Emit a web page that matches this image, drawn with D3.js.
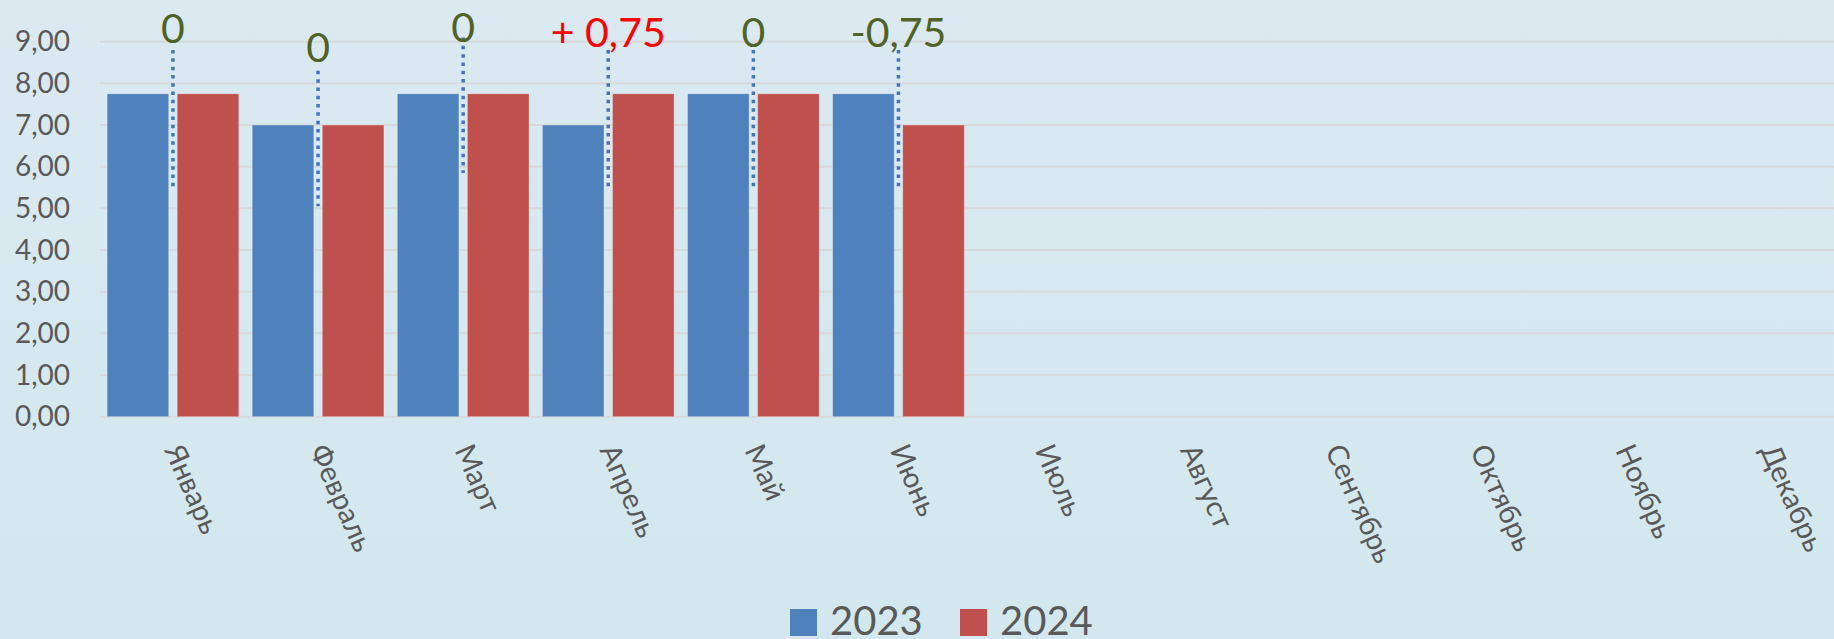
<!DOCTYPE html>
<html>
<head>
<meta charset="utf-8">
<script src="https://cdn.jsdelivr.net/npm/d3@7"></script>
<style>
  html, body { margin: 0; padding: 0; overflow: hidden; }
  svg { display: block; font-family: Lato, "Open Sans", sans-serif; }
</style>
</head>
<body>
<svg width="1834" height="639"></svg>
<script>
// data
var months = ["Январь", "Февраль", "Март", "Апрель", "Май", "Июнь",
    "Июль", "Август", "Сентябрь", "Октябрь", "Ноябрь", "Декабрь"];
var years = ["2023", "2024"];
var values2023 = [7.75, 7.00, 7.75, 7.00, 7.75, 7.75];
var values2024 = [7.75, 7.00, 7.75, 7.75, 7.75, 7.00];
var yTicks = [0, 1, 2, 3, 4, 5, 6, 7, 8, 9];

// difference callouts (text + leader line extent in value units)
var diffLabels = ["0", "0", "0", "+ 0,75", "0", "-0,75"];
var leaderTop = [8.8, 8.3, 9.1, 8.8, 8.8, 8.8];
var leaderBottom = [5.5, 5.05, 5.85, 5.5, 5.5, 5.5];
var labelBase = [8.98, 8.52, 8.99, 8.88, 8.88, 8.87];

var colors = { "2023": "#4f81bd", "2024": "#c0504d" };

var svg = d3.select("svg"),
    width = 1834,
    height = 639;

var ru = d3.formatLocale({ decimal: ",", thousands: " ", grouping: [3], currency: ["", " ₽"] });
var fmt = ru.format(".2f");

// background gradient
var defs = svg.append("defs");
var grad = defs.append("linearGradient")
    .attr("id", "bg")
    .attr("x1", 0).attr("y1", 0).attr("x2", 0).attr("y2", 1);
grad.append("stop").attr("offset", "0%").attr("stop-color", "#dbe9f1");
grad.append("stop").attr("offset", "100%").attr("stop-color", "#d2e8ee");
svg.append("rect")
    .attr("width", width).attr("height", height)
    .attr("fill", "url(#bg)");

// scales
var x = d3.scaleBand()
    .domain(months)
    .range([100.4, 1841.6]);

var x1 = d3.scaleBand()
    .domain(years)
    .range([0, x.bandwidth()])
    .paddingInner(0.121)
    .paddingOuter(0.0956);

var y = d3.scaleLinear()
    .domain([0, 9])
    .range([416.7, 41.7]);

// gridlines
svg.append("g")
    .attr("class", "grid")
    .selectAll("line")
    .data(yTicks)
    .enter().append("line")
    .attr("x1", 100).attr("x2", width)
    .attr("y1", d => y(d)).attr("y2", d => y(d))
    .attr("stroke", "#d6d9dc")
    .attr("stroke-width", 2);

// y axis labels
var yAxis = svg.append("g")
    .attr("transform", "translate(70,0)")
    .call(d3.axisLeft(y).tickValues(yTicks).tickFormat(fmt).tickSize(0).tickPadding(0));
yAxis.select(".domain").remove();
yAxis.selectAll("text")
    .attr("fill", "#595959")
    .style("font-size", "28px")
    .style("font-family", "Lato, 'Open Sans', sans-serif");

// bars
var rows = values2023.map((v, i) => ({ month: months[i], "2023": v, "2024": values2024[i] }));

var groups = svg.append("g")
    .selectAll("g")
    .data(rows)
    .enter().append("g")
    .attr("transform", d => "translate(" + x(d.month) + ",0)");

groups.selectAll("rect")
    .data(d => years.map(k => ({ key: k, value: d[k] })))
    .enter().append("rect")
    .attr("x", d => x1(d.key))
    .attr("width", x1.bandwidth())
    .attr("y", d => y(d.value))
    .attr("height", d => y(0) - y(d.value))
    .attr("fill", d => colors[d.key])
    .attr("stroke", "rgba(255,255,255,0.3)")
    .attr("stroke-width", 1);

// x labels
svg.append("g")
    .selectAll("text")
    .data(months)
    .enter().append("text")
    .attr("transform", d => "translate(" + (x(d) + x.bandwidth() / 2 - 9) + ",450) rotate(66)")
    .attr("fill", "#595959")
    .style("font-size", "29px")
    .text(d => d);

// leader lines + difference labels
var callouts = svg.append("g")
    .selectAll("g")
    .data(diffLabels.map((t, i) => ({ text: t, i: i, diff: values2024[i] - values2023[i] })))
    .enter().append("g");

callouts.append("line")
    .attr("x1", d => x(months[d.i]) + x.bandwidth() / 2)
    .attr("x2", d => x(months[d.i]) + x.bandwidth() / 2)
    .attr("y1", d => y(leaderTop[d.i]))
    .attr("y2", d => y(leaderBottom[d.i]))
    .attr("stroke", "#4472c4")
    .attr("stroke-width", 3.5)
    .attr("stroke-dasharray", "3.5 4.8");

callouts.append("text")
    .attr("x", d => x(months[d.i]) + x.bandwidth() / 2)
    .attr("y", d => y(labelBase[d.i]))
    .attr("text-anchor", "middle")
    .attr("fill", d => d.diff > 0 ? "#ff0000" : "#4f6228")
    .style("font-size", "41px")
    .text(d => d.text);

// legend
var legend = svg.append("g")
    .attr("transform", "translate(790,0)")
    .selectAll("g")
    .data(years)
    .enter().append("g")
    .attr("transform", (d, i) => "translate(" + (i * 170) + ",0)");

legend.append("rect")
    .attr("y", 609)
    .attr("width", 27).attr("height", 27)
    .attr("fill", d => colors[d]);

legend.append("text")
    .attr("x", 40)
    .attr("y", 635)
    .attr("fill", "#595959")
    .style("font-size", "40px")
    .text(d => d);
</script>
</body>
</html>
